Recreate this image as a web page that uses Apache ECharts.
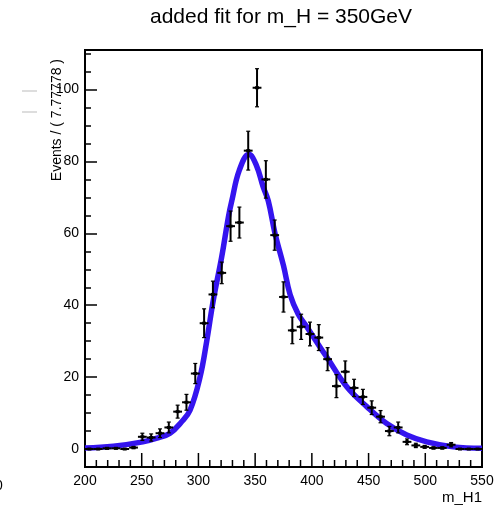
<!DOCTYPE html>
<html><head><meta charset="utf-8">
<script src="https://cdn.jsdelivr.net/npm/echarts@6/dist/echarts.min.js"></script>
<style>html,body{margin:0;padding:0;background:#fff}#c{width:499px;height:508px}</style>
</head><body><div id="c"></div>
<script>
const chartTitle = 'added fit for m_H = 350GeV';
const xTitle = 'm_H1';
const yTitle = 'Events / ( 7.77778 )';
const xMin = 200, xMax = 550, nBins = 45;
const xMajorTicks = [200, 250, 300, 350, 400, 450, 500, 550];
const counts = [0, 0, 0.2, 0.2, 0, 0.4, 3.4, 3.2, 4.4, 6, 10.4, 13, 21, 35, 43, 49, 62, 63, 83, 100.5,
  75, 59.5, 42.3, 33, 34, 32, 31, 25, 17.5, 21.5, 17, 14.5, 11.5, 9, 5, 6, 2, 1, 0.6, 0.3,
  0.3, 1.2, 0, 0, 0];
const errors = [0, 0, 0.2, 0.2, 0, 0.3, 1.0, 1.0, 1.2, 1.5, 1.8, 2.2, 2.8, 4.0, 3.7, 3.0, 4.2, 4.3, 5.4, 5.3,
  5.2, 4.2, 4.2, 3.7, 3.5, 3.3, 3.6, 3.2, 3.2, 3.0, 2.4, 2.1, 1.9, 1.7, 1.3, 1.5, 0.8, 0.6, 0.4, 0.3,
  0.3, 0.6, 0, 0, 0];
const fitX = [200, 225, 251, 265, 275, 285, 292.6, 301.4, 307.3, 313.1, 320.5, 326.4, 329.4, 336, 344.5, 351, 357, 361.6, 367.5, 375, 380.8, 388, 395.5, 408.7, 413.1, 430.8, 448.4, 466, 483.7, 501.3, 524.8, 550];
const fitY = [0.3, 0.8, 2, 3.2, 4.4, 7.5, 10.8, 20, 30, 41.4, 53.4, 64.5, 69, 77.5, 82, 79, 73, 69, 60, 51, 43, 37.5, 34, 27.6, 25.6, 17.3, 11.8, 7.1, 3.9, 2, 0.6, 0.2];

const yMin = -5, yMax = 111;
const binW = (xMax - xMin) / nBins;
const pts = counts.map((v, i) => [xMin + binW * (i + 0.5), v, errors[i]]);
const fitData = fitX.map((x, i) => [x, fitY[i]]);
const FONT = 'Liberation Sans, Helvetica, Arial, sans-serif';

const tickVals = [];
for (let i = 0; i < xMajorTicks.length; i++) {
  tickVals.push([xMajorTicks[i], 13]);
  if (i < xMajorTicks.length - 1) {
    const step = (xMajorTicks[i + 1] - xMajorTicks[i]) / 5;
    for (let k = 1; k < 5; k++) tickVals.push([xMajorTicks[i] + k * step, 6]);
  }
}

function renderItem(params, api) {
  const x = api.value(0), y = api.value(1), e = api.value(2);
  const hw = binW / 2;
  const pl = api.coord([x - hw, y]), pr = api.coord([x + hw, y]);
  const c = api.coord([x, y]);
  const st = {stroke: '#000', lineWidth: 2};
  const ch = [{type: 'line', shape: {x1: pl[0], y1: pl[1], x2: pr[0], y2: pr[1]}, style: st}];
  if (e > 0) {
    const pt = api.coord([x, y + e]), pb = api.coord([x, y - e]);
    ch.push({type: 'line', shape: {x1: pt[0], y1: pt[1], x2: pb[0], y2: pb[1]}, style: st});
    ch.push({type: 'line', shape: {x1: pt[0] - 2, y1: pt[1], x2: pt[0] + 2, y2: pt[1]}, style: {stroke: '#000', lineWidth: 1.2}});
    ch.push({type: 'line', shape: {x1: pb[0] - 2, y1: pb[1], x2: pb[0] + 2, y2: pb[1]}, style: {stroke: '#000', lineWidth: 1.2}});
  }
  ch.push({type: 'rect', shape: {x: c[0] - 2, y: c[1] - 1.5, width: 4, height: 3}, style: {fill: '#000'}});
  return {type: 'group', children: ch};
}

const chart = echarts.init(document.getElementById('c'), null, {renderer: 'canvas'});
chart.setOption({
  animation: false,
  grid: {left: 85, right: 17, top: 50, bottom: 41, show: true, borderColor: '#000', borderWidth: 2},
  xAxis: [{
    type: 'value', min: xMin, max: xMax, interval: 50, position: 'bottom',
    axisLine: {show: true, onZero: false, lineStyle: {color: '#000', width: 2}},
    axisTick: {show: false},
    axisLabel: {fontSize: 14, color: '#000', margin: 7, fontFamily: FONT},
    splitLine: {show: false}
  }],
  yAxis: [{
    type: 'value', min: yMin, max: yMax, splitNumber: 5, position: 'left',
    axisLine: {show: true, onZero: false, lineStyle: {color: '#000', width: 2}},
    axisTick: {show: true, inside: true, length: 12, lineStyle: {color: '#000', width: 1.5}},
    axisLabel: {fontSize: 14, color: '#000', margin: 6, fontFamily: FONT, showMinLabel: false, showMaxLabel: false},
    splitLine: {show: false}
  }, {
    type: 'value', min: yMin, max: yMax, interval: 5, position: 'left',
    axisLine: {show: false, onZero: false},
    axisTick: {show: true, inside: true, length: 6, lineStyle: {color: '#000', width: 1.5}},
    axisLabel: {show: false},
    splitLine: {show: false}
  }],
  series: [{
    type: 'line', data: fitData, xAxisIndex: 0, yAxisIndex: 0,
    showSymbol: false, smooth: 0.4,
    lineStyle: {color: '#3514ef', width: 5.5}, z: 2
  }, {
    type: 'custom', data: pts, xAxisIndex: 0, yAxisIndex: 0,
    renderItem: renderItem, z: 3
  }],
  graphic: [
    {type: 'text', x: 281, y: 17, z: 10, style: {text: chartTitle, font: '21px ' + FONT, fill: '#000', textAlign: 'center', textVerticalAlign: 'middle'}},
    {type: 'text', x: 57, y: 59, rotation: Math.PI / 2, z: 10, style: {text: yTitle, font: '14px ' + FONT, fill: '#000', textAlign: 'right', textVerticalAlign: 'middle'}},
    {type: 'text', x: 482, y: 498, z: 10, style: {text: xTitle, font: '15px ' + FONT, fill: '#000', textAlign: 'right', textVerticalAlign: 'middle'}},
    {type: 'line', shape: {x1: 22, y1: 91, x2: 37, y2: 91}, style: {stroke: '#bbb', lineWidth: 1}},
    {type: 'line', shape: {x1: 22, y1: 112, x2: 37, y2: 112}, style: {stroke: '#bbb', lineWidth: 1}},
    {type: 'text', x: -5, y: 486, style: {text: '0', font: '14px ' + FONT, fill: '#000', textAlign: 'left', textVerticalAlign: 'middle'}}
  ]
});

// x-axis tick marks, positioned through the chart's own x scale
const tickEls = tickVals.map(function (t) {
  const p = chart.convertToPixel({xAxisIndex: 0, yAxisIndex: 0}, [t[0], yMin]);
  return {type: 'line', z: 20, shape: {x1: p[0], y1: p[1] - 1, x2: p[0], y2: p[1] - 1 - t[1]}, style: {stroke: '#000', lineWidth: 1.5}};
});
const opt = chart.getOption();
chart.setOption({graphic: opt.graphic[0].elements.concat(tickEls)}, {replaceMerge: ['graphic']});
</script>
</body></html>
